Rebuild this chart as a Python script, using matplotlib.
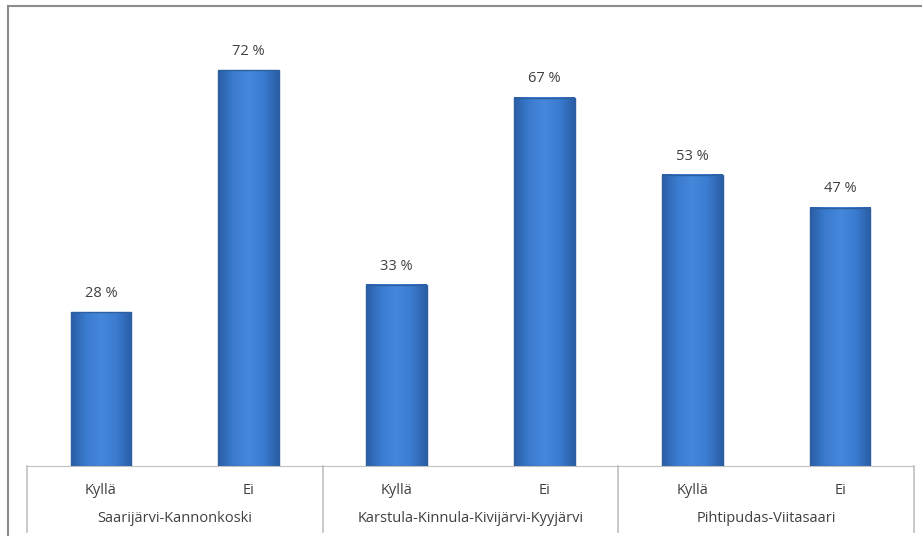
import matplotlib.pyplot as plt
import numpy as np
from matplotlib.colors import LinearSegmentedColormap

# Data
alueet = ['Saarijärvi-Kannonkoski', 'Karstula-Kinnula-Kivijärvi-Kyyjärvi', 'Pihtipudas-Viitasaari']
vastaukset = ['Kyllä', 'Ei']
arvot = [28, 72, 33, 67, 53, 47]

plt.rcParams['font.family'] = ['Open Sans', 'DejaVu Sans']
tekstivari = '#404040'
viiva = '#c0c0c0'

fig = plt.figure(figsize=(9.22, 5.36), dpi=100)
ax = fig.add_axes([27 / 922, 70 / 536, 887 / 922, 440 / 536])

# Ulkokehys
fig.add_artist(plt.Line2D([8 / 922, 8 / 922], [0, 530 / 536], color='#8c8c8c', lw=1.5))
fig.add_artist(plt.Line2D([8 / 922, 1], [530 / 536, 530 / 536], color='#8c8c8c', lw=1.5))

cmap = LinearSegmentedColormap.from_list('palkki', ['#2a5ea6', '#3b7cd0', '#4587db', '#3b7cd0', '#2a5ea6'])
grad = np.linspace(0, 1, 60).reshape(1, -1)

x = np.arange(len(arvot))
leveys = 0.41
for xi, v in zip(x, arvot):
    ax.imshow(grad, cmap=cmap, extent=(xi - leveys / 2, xi + leveys / 2, 0, v),
              aspect='auto', zorder=2, interpolation='bilinear')
    ax.bar(xi, v, width=leveys, facecolor='none', edgecolor='#2c5f9f', lw=1.0, zorder=3)
    ax.text(xi, v + 2, f'{v} %', ha='center', va='bottom', fontsize=10.5, color=tekstivari)

ax.set_xlim(-0.5, len(arvot) - 0.5)
ax.set_ylim(0, 80)
for s in ['top', 'right', 'left']:
    ax.spines[s].set_visible(False)
ax.spines['bottom'].set_color(viiva)
ax.set_yticks([])
ax.set_xticks([])

# Kategoriat ja ryhmät
trans = ax.get_xaxis_transform()
for i, xi in enumerate(x):
    ax.text(xi, -24 / 440, vastaukset[i % 2], transform=trans, ha='center', va='center',
            fontsize=10.5, color=tekstivari)
for g, nimi in enumerate(alueet):
    ax.text(2 * g + 0.5, -52 / 440, nimi, transform=trans, ha='center', va='center',
            fontsize=10.5, color=tekstivari)
for raja in [-0.5, 1.5, 3.5, 5.5]:
    ax.plot([raja, raja], [0, -66 / 440], transform=trans, color=viiva, lw=1.2, clip_on=False)

fig.savefig('out.png', dpi=100, facecolor='white')
